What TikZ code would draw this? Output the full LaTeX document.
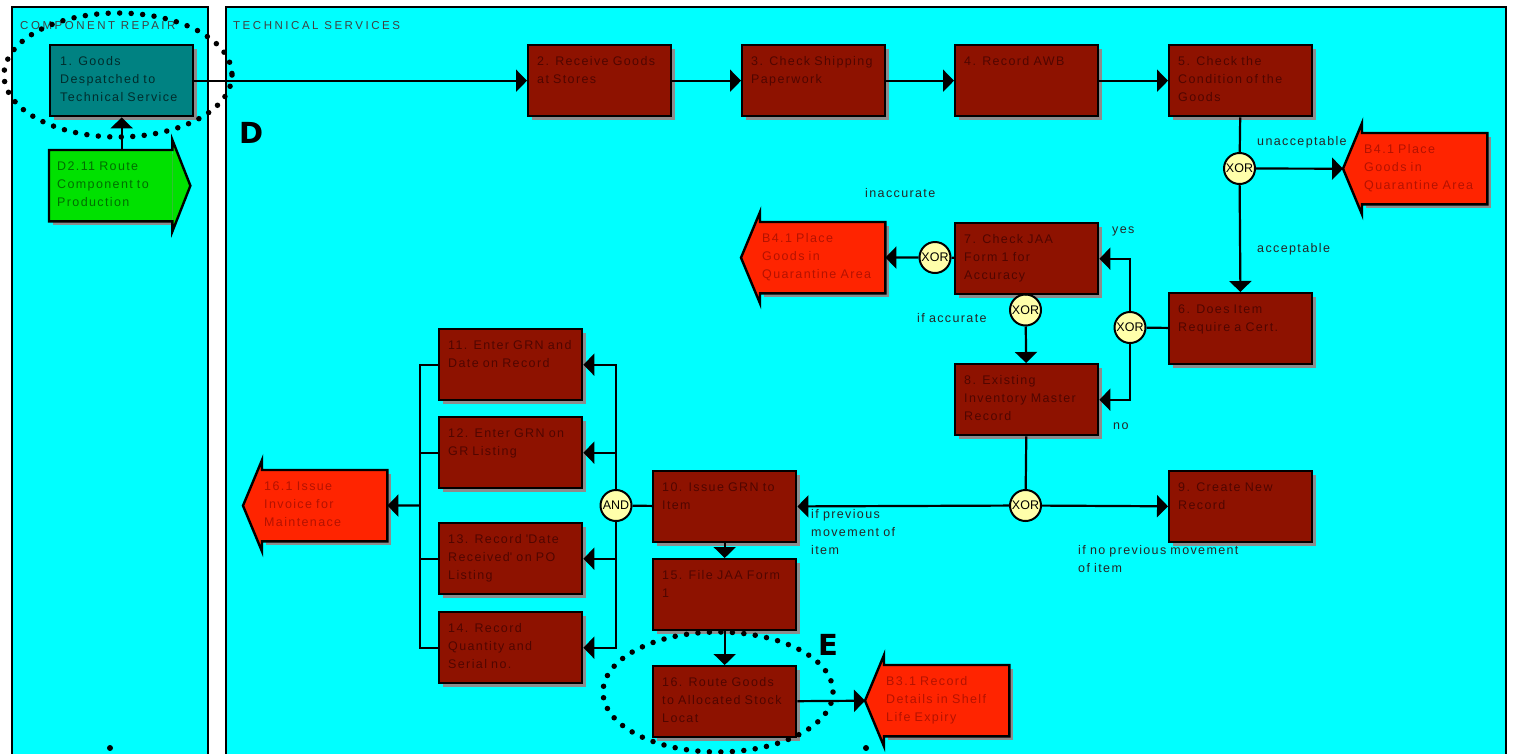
\documentclass[tikz,border=0pt]{standalone}
\usepackage{fontspec}
\setmainfont{Liberation Sans}[LetterSpace=11]
\newfontfamily\gatefont{Liberation Sans}
\newfontfamily\lanefont{Liberation Sans}[LetterSpace=22]
\newfontfamily\markfont{DejaVu Sans}
\usepackage{tikz}
\usetikzlibrary{arrows.meta, shadows, calc}

\definecolor{lanecyan}{RGB}{0,255,255}
\definecolor{taskred}{RGB}{142,18,0}
\definecolor{tasktext}{RGB}{80,6,0}
\definecolor{linkred}{RGB}{255,36,0}
\definecolor{linktext}{RGB}{180,18,0}
\definecolor{linkgreen}{RGB}{0,225,0}
\definecolor{greentext}{RGB}{0,110,0}
\definecolor{tealbox}{RGB}{0,130,130}
\definecolor{tealtext}{RGB}{0,45,45}
\definecolor{gatefill}{RGB}{255,255,170}
\definecolor{shadowgray}{RGB}{140,140,140}

\begin{document}
\begin{tikzpicture}[x=1pt, y=-1pt,
        lane/.style={draw, line width=2pt, fill=lanecyan},
        lanetitle/.style={anchor=base west, inner sep=0pt, text=black!75, font=\lanefont\fontsize{11.5}{11.5}\selectfont},
        task/.style={rectangle, draw, line width=2.4pt, fill=taskred, text=tasktext, anchor=north west,
            minimum width=143pt, minimum height=71pt, text width=125pt, inner xsep=9pt, inner ysep=4pt,
            text height=16pt, text depth=47pt, align=left, font=\fontsize{12.5}{18}\selectfont,
            drop shadow={shadow xshift=3.5pt, shadow yshift=-3.5pt, fill=shadowgray, opacity=1}},
        link/.style={rectangle, fill=linkred, text=linktext, anchor=north west,
            minimum height=71pt, text width=121pt, inner xsep=2pt, inner ysep=4pt,
            text height=16pt, text depth=47pt, align=left, font=\fontsize{12.5}{18}\selectfont,
            drop shadow={shadow xshift=3.5pt, shadow yshift=-3.5pt, fill=shadowgray, opacity=1}},
        gate/.style={circle, draw, line width=2pt, fill=gatefill, minimum size=31pt, inner sep=0pt,
            font=\gatefont\fontsize{12.5}{12.5}\selectfont},
        lbl/.style={anchor=base west, inner sep=0pt, text width=200pt, align=left, text=black!85,
            font=\fontsize{12.5}{18}\selectfont},
        areamark/.style={anchor=base west, inner sep=0pt, font=\markfont\bfseries\fontsize{29}{29}\selectfont},
        wire/.style={line width=2.2pt},
        conn/.style={line width=2.2pt, -{Triangle[length=11pt, width=22pt]}},
        focus/.style={line width=5.5pt, dash pattern=on 0pt off 11.5pt, line cap=round}
    ]
    \useasboundingbox (0,0) rectangle (1514,753);

    % swimlanes
    \draw[lane] (12,7) rectangle (208,775);
    \draw[lane] (226,7) rectangle (1506,775);
    \node[lanetitle] (repairlane) at (20,29) {COMPONENT REPAIR};
    \node[lanetitle] (techlane) at (233,29) {TECHNICAL SERVICES};

    % tasks
    \node[task, fill=tealbox, text=tealtext, text width=123pt] (goods) at (49,44) {1. Goods\\Despatched to\\Technical Service};
    \node[task] (recv) at (527,44) {2. Receive Goods\\at Stores};
    \node[task] (ship) at (741,44) {3. Check Shipping\\Paperwork};
    \node[task] (awb) at (954,44) {4. Record AWB};
    \node[task] (cond) at (1168,44) {5. Check the\\Condition of the\\Goods};
    \node[task] (cert) at (1168,292) {6. Does Item\\Require a Cert.};
    \node[task] (jaa) at (954,222) {7. Check JAA\\Form 1 for\\Accuracy};
    \node[task] (invm) at (954,363) {8. Existing\\Inventory Master\\Record};
    \node[task] (newrec) at (1168,470) {9. Create New\\Record};
    \node[task] (grn) at (652,470) {10. Issue GRN to\\Item};
    \node[task] (grnrec) at (438,328) {11. Enter GRN and\\Date on Record};
    \node[task] (grnlist) at (438,416) {12. Enter GRN on\\GR Listing};
    \node[task] (podate) at (438,522) {13. Record \textquotesingle Date\\Received\textquotesingle\ on PO\\Listing};
    \node[task] (qtyser) at (438,611) {14. Record\\Quantity and\\Serial no.};
    \node[task] (jaaform) at (652,558) {15. File JAA Form\\1};
    \node[task] (route) at (652,665) {16. Route Goods\\to Allocated Stock\\Locat};

    % links to other processes
    \node[link] (quarA) at (1362,133) {B4.1 Place\\Goods in\\Quarantine Area};
    \node[link] (quarB) at (760,222) {B4.1 Place\\Goods in\\Quarantine Area};
    \node[link] (invoice) at (262,470) {16.1 Issue\\Invoice for\\Maintenace};
    \node[link] (shelf) at (884,665) {B3.1 Record\\Details in Shelf\\Life Expiry};
    \node[link, fill=linkgreen, text=greentext, text width=107pt, inner xsep=8pt] (prodroute) at (49,150) {D2.11 Route\\Component to\\Production};

    \foreach \n in {quarA, quarB, invoice, shelf} {
        \fill[linkred] (\n.north west) -- ++(0,-10) -- ($(\n.west)+(-19,0)$) -- ($(\n.south west)+(0,10)$) -- (\n.south west) -- cycle;
        \draw[line width=2.4pt] (\n.south west) -- ++(0,10) -- ($(\n.west)+(-19,0)$) -- ($(\n.north west)+(0,-10)$)
            -- (\n.north west) -- (\n.north east) -- (\n.south east) -- cycle;
        \coordinate (\n tip) at ($(\n.west)+(-19,0)$);
    }
    \fill[linkgreen] (prodroute.north east) -- ++(0,-10) -- ($(prodroute.east)+(18,0)$) -- ($(prodroute.south east)+(0,10)$) -- (prodroute.south east) -- cycle;
    \draw[line width=2.4pt] (prodroute.south east) -- ++(0,10) -- ($(prodroute.east)+(18,0)$) -- ($(prodroute.north east)+(0,-10)$)
        -- (prodroute.north east) -- (prodroute.north west) -- (prodroute.south west) -- cycle;

    % gates
    \node[gate] (gcond) at (1239.5,168.5) {XOR};
    \node[gate] (gcert) at (1130,327.5) {XOR};
    \node[gate] (gjaa) at (935,257.5) {XOR};
    \node[gate] (gacc) at (1025.5,310) {XOR};
    \node[gate] (gmove) at (1025.5,505.5) {XOR};
    \node[gate] (gand) at (616,505.5) {AND};
    \coordinate (jn) at (420,505.5);

    % flow
    \draw[conn] (prodroute.north -| goods.south) -- (goods);
    \draw[conn] (goods) -- (recv);
    \draw[conn] (recv) -- (ship);
    \draw[conn] (ship) -- (awb);
    \draw[conn] (awb) -- (cond);
    \draw[wire] (cond) -- (gcond);
    \draw[conn] (gcond) -- (quarAtip);
    \draw[conn] (gcond) -- (cert);
    \draw[wire] (cert) -- (gcert);
    \draw[conn] (gcert) |- (jaa);
    \draw[conn] (gcert) |- (invm);
    \draw[wire] (jaa) -- (gjaa);
    \draw[conn] (gjaa) -- (quarB);
    \draw[wire] (jaa) -- (gacc);
    \draw[conn] (gacc) -- (invm);
    \draw[wire] (invm) -- (gmove);
    \draw[conn] (gmove) -- (newrec);
    \draw[conn] (gmove) -- (grn);
    \draw[wire] (grn) -- (gand);
    \foreach \t in {grnrec, grnlist, podate, qtyser} {
        \draw[conn] (gand) |- (\t);
        \draw[wire] (\t) -| (jn);
    }
    \draw[conn] (jn) -- (invoice);
    \draw[conn] (grn) -- (jaaform);
    \draw[conn] (jaaform) -- (route);
    \draw[conn] (route) -- (shelftip);

    % labels
    \node[lbl] (lunacc) at (1257,145) {unacceptable};
    \node[lbl] (lacc) at (1257,252) {acceptable};
    \node[lbl] (lyes) at (1112,233) {yes};
    \node[lbl] (lno) at (1113,429) {no};
    \node[lbl] (linacc) at (865,197) {inaccurate};
    \node[lbl] (lifacc) at (917,322) {if accurate};
    \node[lbl] (lprev) at (811,518) {if previous\\movement of\\item};
    \node[lbl] (lnoprev) at (1078,554) {if no previous movement\\of item};

    % highlights
    \draw[focus] (118,75) ellipse [x radius=114, y radius=62];
    \draw[focus] (718,692) ellipse [x radius=115, y radius=60];
    \fill (110,748) circle [radius=3];
    \fill (866,748) circle [radius=3];
    \node[areamark] (markD) at (239,143) {D};
    \node[areamark] (markE) at (818,655) {E};
\end{tikzpicture}
\end{document}
